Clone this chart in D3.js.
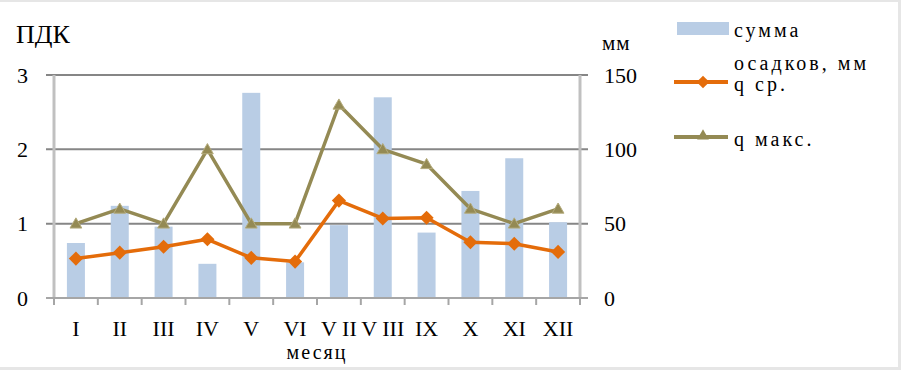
<!DOCTYPE html>
<html lang="ru">
<head>
<meta charset="UTF-8">
<style>
  body { margin: 0; background: #fff; }
  svg text { font-family: "Liberation Serif", "Times New Roman", serif; fill: #000; }
  .grid line { stroke: #868686; stroke-width: 2px; }
  .tick text { font-size: 22px; }
</style>
</head>
<body>
<script src="https://cdn.jsdelivr.net/npm/d3@7"></script>
<script>
var months = ["I", "II", "III", "IV", "V", "VI", "VII", "VIII", "IX", "X", "XI", "XII"];
var monthLabels = ["I", "II", "III", "IV", "V", "VI", "V II", "V III", "IX", "X", "XI", "XII"];
var precip = [37, 62, 48, 23, 138, 24, 49, 135, 44, 72, 94, 51];   // сумма осадков, мм
var qAvg = [0.53, 0.61, 0.69, 0.79, 0.54, 0.49, 1.31, 1.07, 1.08, 0.75, 0.73, 0.62];
var qMax = [1.0, 1.2, 1.0, 2.0, 1.0, 1.0, 2.6, 2.0, 1.8, 1.2, 1.0, 1.2];
var leftTicks = [0, 1, 2, 3];
var rightTicks = [0, 50, 100, 150];

var width = 901, height = 370;
var plotLeft = 54, plotRight = 580, plotTop = 75, plotBottom = 298;

var svg = d3.select("body").append("svg").attr("width", width).attr("height", height)
  .style("display", "block");

// frame
svg.append("rect").attr("x", 0).attr("y", 0).attr("width", width).attr("height", 2).attr("fill", "#e6e6e6");
svg.append("rect").attr("x", 0).attr("y", 367).attr("width", width).attr("height", 3).attr("fill", "#e6e6e6");
svg.append("rect").attr("x", 898).attr("y", 0).attr("width", 3).attr("height", height).attr("fill", "#e6e6e6");

var x = d3.scaleBand().domain(months).range([plotLeft, plotRight]);
var yL = d3.scaleLinear().domain([0, 3]).range([plotBottom, plotTop]);
var yR = d3.scaleLinear().domain([0, 150]).range([plotBottom, plotTop]);

// gridlines
svg.append("g").attr("class", "grid")
  .selectAll("line").data(leftTicks.slice(1)).enter().append("line")
  .attr("x1", plotLeft - 8).attr("x2", plotRight + 8)
  .attr("y1", function(d){ return yL(d); }).attr("y2", function(d){ return yL(d); });

// bars
var bw = 18;
svg.append("g").selectAll("rect").data(precip).enter().append("rect")
  .attr("x", function(d, i){ return x(months[i]) + x.bandwidth()/2 - bw/2; })
  .attr("y", function(d){ return yR(d); })
  .attr("width", bw)
  .attr("height", function(d){ return plotBottom - yR(d); })
  .attr("fill", "#b9cde5");

// axis lines
svg.append("line").attr("x1", plotLeft).attr("x2", plotLeft).attr("y1", plotTop).attr("y2", plotBottom + 1)
  .attr("stroke", "#c0c0c0").attr("stroke-width", 3);
svg.append("line").attr("x1", plotRight).attr("x2", plotRight).attr("y1", plotTop).attr("y2", plotBottom + 1)
  .attr("stroke", "#c0c0c0").attr("stroke-width", 3);
svg.append("line").attr("x1", plotLeft - 8).attr("x2", plotRight + 8).attr("y1", plotBottom).attr("y2", plotBottom)
  .attr("stroke", "#a6a6a6").attr("stroke-width", 2);

// category ticks
svg.append("g").selectAll("line").data(d3.range(months.length + 1)).enter().append("line")
  .attr("x1", function(i){ return plotLeft + i * x.bandwidth(); })
  .attr("x2", function(i){ return plotLeft + i * x.bandwidth(); })
  .attr("y1", plotBottom).attr("y2", plotBottom + 7)
  .attr("stroke", "#a6a6a6").attr("stroke-width", 2);

// left axis
var gl = svg.append("g").attr("transform", "translate(" + plotLeft + ",0)")
  .call(d3.axisLeft(yL).tickValues(leftTicks).tickFormat(d3.format("d")).tickSize(0).tickPadding(26));
gl.select(".domain").remove();

// right axis
var gr = svg.append("g").attr("transform", "translate(" + plotRight + ",0)")
  .call(d3.axisRight(yR).tickValues(rightTicks).tickSize(0).tickPadding(24));
gr.select(".domain").remove();

// x labels
svg.append("g").selectAll("text").data(monthLabels).enter().append("text")
  .attr("x", function(d, i){ return x(months[i]) + x.bandwidth()/2; })
  .attr("y", 336)
  .attr("text-anchor", "middle")
  .style("font-size", "22px")
  .text(function(d){ return d; });

svg.append("text").attr("x", 317).attr("y", 359).attr("text-anchor", "middle")
  .style("font-size", "20px").style("letter-spacing", "2px").text("месяц");
svg.append("text").attr("x", 16).attr("y", 43).style("font-size", "26px").text("ПДК");
svg.append("text").attr("x", 602).attr("y", 50).style("font-size", "21px").style("letter-spacing", "1px").text("мм");

// lines
var line = d3.line()
  .x(function(d, i){ return x(months[i]) + x.bandwidth()/2; })
  .y(function(d){ return yL(d); });

svg.append("path").datum(qMax).attr("d", line)
  .attr("fill", "none").attr("stroke", "#948a54").attr("stroke-width", 3.5).attr("stroke-linejoin", "round");
svg.append("g").selectAll("path").data(qMax).enter().append("path")
  .attr("d", d3.symbol().type(d3.symbolTriangle).size(60))
  .attr("transform", function(d, i){ return "translate(" + (x(months[i]) + x.bandwidth()/2) + "," + (yL(d) + 1) + ")"; })
  .attr("fill", "#948a54").attr("stroke", "#b4ab7c").attr("stroke-width", 1);

svg.append("path").datum(qAvg).attr("d", line)
  .attr("fill", "none").attr("stroke", "#e46c0a").attr("stroke-width", 3.5).attr("stroke-linejoin", "round");
svg.append("g").selectAll("path").data(qAvg).enter().append("path")
  .attr("d", d3.symbol().type(d3.symbolSquare).size(100))
  .attr("transform", function(d, i){ return "translate(" + (x(months[i]) + x.bandwidth()/2) + "," + yL(d) + ") rotate(45)"; })
  .attr("fill", "#e46c0a");

// legend
var lg = svg.append("g").style("font-size", "20px").style("letter-spacing", "3px");
lg.append("rect").attr("x", 677).attr("y", 22).attr("width", 52).attr("height", 13).attr("fill", "#b9cde5");
lg.append("text").attr("x", 734).attr("y", 37).text("сумма");
lg.append("text").attr("x", 734).attr("y", 70).text("осадков, мм");
lg.append("line").attr("x1", 674).attr("x2", 728).attr("y1", 82).attr("y2", 82)
  .attr("stroke", "#e46c0a").attr("stroke-width", 4);
lg.append("path").attr("d", d3.symbol().type(d3.symbolSquare).size(80))
  .attr("transform", "translate(703,82) rotate(45)").attr("fill", "#e46c0a");
lg.append("text").attr("x", 734).attr("y", 91).text("q ср.");
lg.append("line").attr("x1", 674).attr("x2", 728).attr("y1", 137).attr("y2", 137)
  .attr("stroke", "#948a54").attr("stroke-width", 4);
lg.append("path").attr("d", d3.symbol().type(d3.symbolTriangle).size(60))
  .attr("transform", "translate(703,136)").attr("fill", "#948a54");
lg.append("text").attr("x", 734).attr("y", 146).text("q макс.");
</script>
</body>
</html>
